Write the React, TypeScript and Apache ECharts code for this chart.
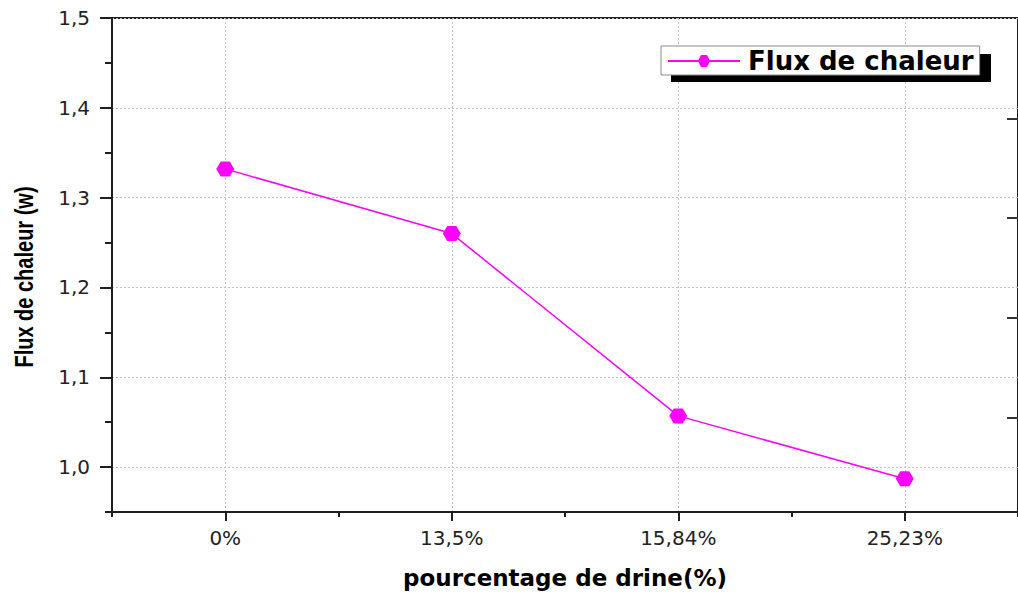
import React, { useEffect, useRef } from "react";
import * as echarts from "echarts";

// Drine content of the samples (x categories) and measured heat flux (W)
const categories = ["0%", "13,5%", "15,84%", "25,23%"];
const fluxValues = [1.332, 1.26, 1.057, 0.987];

// Axis tick positions
const categoryTicks = [0, 1, 2, 3];
const categoryMinorTicks = [-0.5, 0.5, 1.5, 2.5, 3.5];
const yMajorTicks = [1.0, 1.1, 1.2, 1.3, 1.4, 1.5];
const yMinorTicks = [0.95, 1.05, 1.15, 1.25, 1.35, 1.45];

const seriesName = "Flux de chaleur";
const xTitle = "pourcentage de drine(%)";
const yTitle = "Flux de chaleur (w)";

const hexagon = "path://M0,6 L3.5,0 L10.5,0 L14,6 L10.5,12 L3.5,12 Z";
const magenta = "#ff00ff";
const ink = "#1e1e1e";
const gridDots = { color: "#c2c2c2", width: 1, type: [2, 2] as number[] };
const tickFont = "DejaVu Sans";

export default function App() {
  const ref = useRef<HTMLDivElement>(null);

  useEffect(() => {
    if (!ref.current) return;
    const chart = echarts.init(ref.current, null, { renderer: "svg" });

    const rightTicks = [119, 218, 318, 418].map((y) => ({
      type: "line",
      shape: { x1: 1007, y1: y, x2: 1018, y2: y },
      style: { stroke: "#333", lineWidth: 2 },
      z: 5,
    }));

    chart.setOption({
      animation: false,
      backgroundColor: "#fff",
      grid: {
        left: 112,
        top: 18,
        right: -3,
        bottom: 76,
        show: true,
        borderColor: ink,
        borderWidth: 2,
        backgroundColor: "transparent",
      },
      legend: {
        data: [{ name: seriesName }],
        left: 661,
        top: 46,
        itemWidth: 72,
        itemHeight: 15,
        itemGap: 8,
        padding: [2, 6, 1, 6],
        backgroundColor: "#fff",
        borderColor: "#8a8a8a",
        borderWidth: 1,
        borderRadius: 0,
        z: 10,
        textStyle: {
          fontFamily: "DejaVu Sans",
          fontWeight: "bold",
          fontSize: 26,
          color: "#000",
          padding: [0, 0, 0, 3],
        },
      },
      graphic: [
        {
          type: "rect",
          shape: { x: 671, y: 54, width: 320, height: 28 },
          style: { fill: "#000" },
          z: 5,
        },
        ...rightTicks,
        // vertical axis title, widened across its height
        {
          type: "text",
          x: 24,
          y: 277,
          rotation: Math.PI / 2,
          scaleY: 1.3,
          style: {
            text: yTitle,
            fontFamily: "Liberation Sans, Arial",
            fontWeight: "bold",
            fontSize: 20,
            fill: "#000",
            align: "center",
            verticalAlign: "middle",
          },
          z: 5,
        },
      ],
      xAxis: [
        {
          type: "value",
          min: -0.5,
          max: 3.5,
          position: "bottom",
          axisLine: { show: true, onZero: false, lineStyle: { color: ink, width: 2 } },
          axisTick: {
            show: true,
            customValues: categoryTicks,
            length: 9,
            lineStyle: { color: ink, width: 2 },
          },
          axisLabel: {
            customValues: categoryTicks,
            formatter: (v: number) => categories[Math.round(v)] ?? "",
            fontFamily: tickFont,
            fontSize: 20,
            color: "#222",
            margin: 16,
          },
          splitLine: { show: true, lineStyle: gridDots },
          name: xTitle,
          nameLocation: "middle",
          nameGap: 54,
          nameTextStyle: {
            fontFamily: "DejaVu Sans",
            fontWeight: "bold",
            fontSize: 23,
            color: "#000",
          },
        },
        {
          type: "value",
          min: -0.5,
          max: 3.5,
          position: "bottom",
          offset: 0,
          axisLine: { show: false, onZero: false },
          axisTick: {
            show: true,
            customValues: categoryMinorTicks,
            length: 5,
            lineStyle: { color: ink, width: 2 },
          },
          axisLabel: { show: false },
          splitLine: { show: false },
        },
      ],
      yAxis: [
        {
          type: "value",
          min: 0.95,
          max: 1.5,
          position: "left",
          axisLine: { show: true, onZero: false, lineStyle: { color: ink, width: 2 } },
          axisTick: {
            show: true,
            customValues: yMajorTicks,
            length: 12,
            lineStyle: { color: ink, width: 2 },
          },
          axisLabel: {
            customValues: yMajorTicks,
            formatter: (v: number) => v.toFixed(1).replace(".", ","),
            fontFamily: tickFont,
            fontSize: 20,
            color: "#222",
            margin: 22,
          },
          splitLine: { show: true, lineStyle: gridDots },
        },
        {
          type: "value",
          min: 0.95,
          max: 1.5,
          position: "left",
          offset: 0,
          axisLine: { show: false, onZero: false },
          axisTick: {
            show: true,
            customValues: yMinorTicks,
            length: 7,
            lineStyle: { color: ink, width: 2 },
          },
          axisLabel: { show: false },
          splitLine: { show: false },
        },
      ],
      series: [
        {
          name: seriesName,
          type: "line",
          xAxisIndex: 0,
          yAxisIndex: 0,
          data: categories.map((_, i) => [i, fluxValues[i]]),
          symbol: hexagon,
          symbolSize: [18, 15],
          showSymbol: true,
          color: magenta,
          itemStyle: { color: magenta },
          lineStyle: { color: magenta, width: 1.5 },
          z: 3,
        },
      ],
    });

    return () => chart.dispose();
  }, []);

  return (
    <div
      ref={ref}
      style={{ position: "absolute", left: 0, top: 0, width: 1018, height: 594 }}
    />
  );
}
